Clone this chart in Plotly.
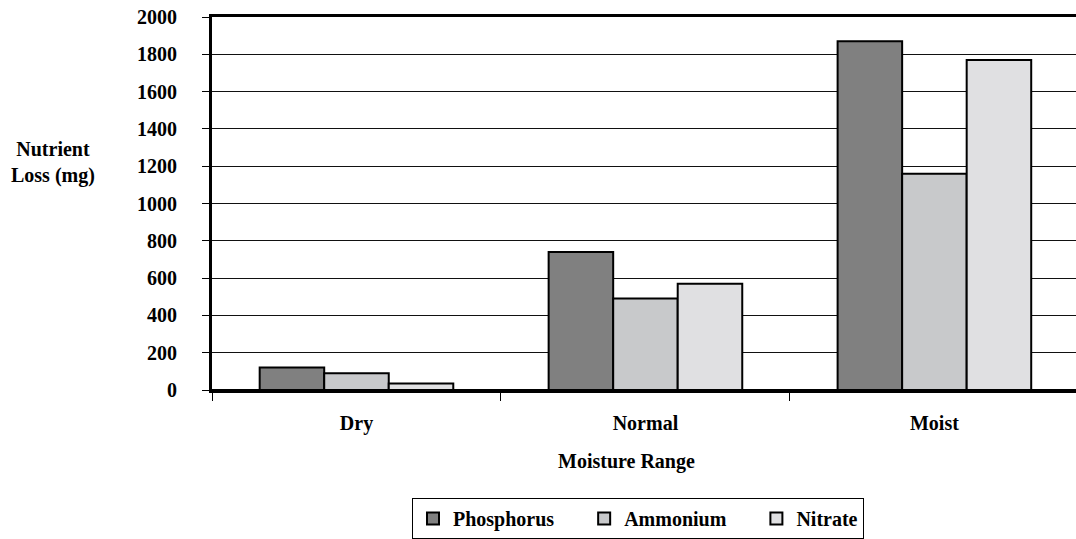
import plotly.graph_objects as go

# Nutrient loss by moisture range
categories = ["Dry", "Normal", "Moist"]
phosphorus = [120, 740, 1870]
ammonium = [90, 490, 1160]
nitrate = [35, 570, 1770]
y_ticks = [0, 200, 400, 600, 800, 1000, 1200, 1400, 1600, 1800, 2000]

FONT = "Times New Roman, Liberation Serif, serif"
PAD = "\u00a0" * 5
series = [
    ("Phosphorus", phosphorus, "#808080", PAD),
    ("Ammonium", ammonium, "#c8c9cb", PAD),
    ("Nitrate", nitrate, "#e0e0e2", ""),
]

# plot area in pixels
L, T, W, H = 212, 17, 864, 378
B = 539 - T - H

fig = go.Figure()
for name, vals, color, pad in series:
    fig.add_trace(go.Bar(
        x=categories, y=vals, name="<b>" + name + "</b>" + pad,
        marker=dict(color=color, line=dict(color="black", width=2)),
    ))

fig.update_layout(
    width=1076, height=539,
    margin=dict(l=L, r=0, t=T, b=B),
    paper_bgcolor="white", plot_bgcolor="white",
    barmode="group", bargap=0.33, bargroupgap=0.0,
    font=dict(family=FONT, size=20, color="black"),
    showlegend=True,
    legend=dict(
        orientation="h", x=(638 - L) / W, xanchor="center",
        y=(395 - 505) / H, yanchor="top",
        bordercolor="black", borderwidth=1, bgcolor="white",
        font=dict(family=FONT, size=20, color="black"),
        itemwidth=30, traceorder="normal",
    ),
    xaxis=dict(
        range=[-0.5, 2.49], showgrid=False, tickson="boundaries",
        ticks="outside", ticklen=8, tickcolor="black", tickwidth=1,
        showline=True, linecolor="black", linewidth=3, mirror=True,
        tickfont=dict(family=FONT, size=20, color="black"),
        ticklabelstandoff=13,
        tickprefix="<b>", ticksuffix="</b>",
    ),
    yaxis=dict(
        range=[0, 2000], tickvals=y_ticks,
        ticktext=["<b>%d</b>" % v for v in y_ticks],
        showgrid=True, gridcolor="#111111", gridwidth=1,
        ticks="outside", ticklen=7, tickcolor="black",
        showline=True, linecolor="black", linewidth=3,
        zeroline=True, zerolinecolor="black", zerolinewidth=3,
        tickfont=dict(family=FONT, size=20, color="black"),
        ticklabelstandoff=21,
    ),
)

fig.add_annotation(
    text="<b>Nutrient<br>Loss (mg)</b>",
    x=(53 - L) / W, y=(395 - 164) / H, xref="paper", yref="paper",
    xanchor="center", yanchor="middle", showarrow=False, align="center",
    font=dict(family=FONT, size=20, color="black"),
)
fig.add_annotation(
    text="<b>Moisture Range</b>",
    x=(626 - L) / W, y=(395 - 467) / H, xref="paper", yref="paper",
    xanchor="center", yanchor="middle", showarrow=False,
    font=dict(family=FONT, size=20, color="black"),
)

fig.write_html("out.html")
